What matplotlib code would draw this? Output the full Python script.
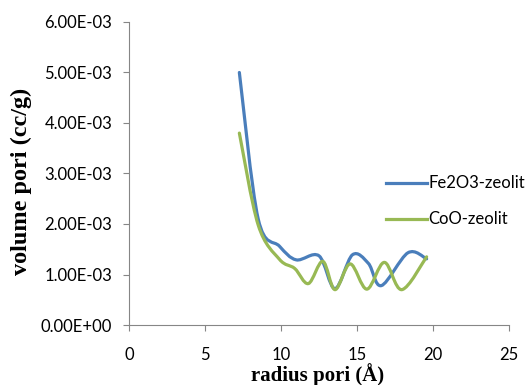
import numpy as np
import matplotlib
matplotlib.use("Agg")
import matplotlib.pyplot as plt
from matplotlib.path import Path
from matplotlib.patches import PathPatch
from matplotlib.lines import Line2D

# ---- data (volume in cc/g) ----
fe_radius = [7.26, 8.5, 9.9, 11.0, 12.5, 13.55, 14.7, 15.75, 16.6, 18.35, 19.58]
fe_volume = [5.0e-3, 2.1e-3, 1.56e-3, 1.29e-3, 1.37e-3, 0.72e-3, 1.39e-3, 1.22e-3, 0.78e-3, 1.43e-3, 1.31e-3]

co_radius = [7.26, 8.5, 9.9, 10.9, 11.8, 12.75, 13.55, 14.55, 15.65, 16.8, 17.95, 19.58]
co_volume = [3.8e-3, 1.98e-3, 1.3e-3, 1.12e-3, 0.82e-3, 1.26e-3, 0.70e-3, 1.21e-3, 0.71e-3, 1.24e-3, 0.70e-3, 1.35e-3]

series_names = ["Fe2O3-zeolit", "CoO-zeolit"]
series_colors = ["#4A7EBB", "#98B954"]

x_ticks = [0, 5, 10, 15, 20, 25]
y_ticks = [0, 1e-3, 2e-3, 3e-3, 4e-3, 5e-3, 6e-3]
y_ticklabels = ["0.00E+00", "1.00E-03", "2.00E-03", "3.00E-03", "4.00E-03", "5.00E-03", "6.00E-03"]


def smooth_path(xs, ys):
    """Excel-style smoothed line: cubic Bezier segments through the points."""
    P = np.column_stack([xs, ys]).astype(float)
    n = len(P)
    verts = [P[0]]
    codes = [Path.MOVETO]
    for i in range(n - 1):
        p0 = P[i - 1] if i > 0 else P[i]
        p1 = P[i]
        p2 = P[i + 1]
        p3 = P[i + 2] if i + 2 < n else P[i + 1]
        c1 = p1 + (p2 - p0) / 6.0
        c2 = p2 - (p3 - p1) / 6.0
        verts += [c1, c2, p2]
        codes += [Path.CURVE4] * 3
    return Path(verts, codes)


W, H = 531, 385
fig = plt.figure(figsize=(W / 100, H / 100), dpi=100)
ax = fig.add_axes([129 / W, 1 - 325 / H, (509 - 129) / W, (325 - 22) / H])

ax.set_xlim(0, 25)
ax.set_ylim(0, 6e-3)

for xs, ys, col in [(fe_radius, fe_volume, series_colors[0]),
                    (co_radius, co_volume, series_colors[1])]:
    patch = PathPatch(smooth_path(xs, ys), facecolor="none", edgecolor=col,
                      lw=2.3, capstyle="round", joinstyle="round")
    ax.add_patch(patch)

for s in ["top", "right"]:
    ax.spines[s].set_visible(False)
for s in ["left", "bottom"]:
    ax.spines[s].set_color("#868686")
    ax.spines[s].set_linewidth(0.8)

tick_font = dict(family="Lato", size=12)
ax.set_xticks(x_ticks)
ax.set_xticklabels([str(t) for t in x_ticks], **tick_font, color="#000000")
ax.set_yticks(y_ticks)
ax.set_yticklabels(y_ticklabels, **tick_font, color="#000000")
ax.tick_params(axis="both", direction="out", length=4, color="#868686", width=0.8)
ax.tick_params(axis="x", pad=12)
ax.tick_params(axis="y", pad=8)

# axis titles
fig.text(318 / W, 1 - 375 / H, "radius pori (Å)", family="Liberation Serif",
         weight="bold", size=15, ha="center", va="center")
fig.text(21 / W, 1 - 181 / H, "volume pori (cc/g)", family="Liberation Serif",
         weight="bold", size=17.5, ha="center", va="center", rotation=90)

# legend
for i, (name, col) in enumerate(zip(series_names, series_colors)):
    yc = 1 - (183 + 36 * i) / H
    fig.add_artist(Line2D([386 / W, 427 / W], [yc, yc], color=col, lw=2.3,
                          transform=fig.transFigure))
    fig.text(428 / W, yc, name, family="Lato", size=12, ha="left", va="center")

fig.savefig("out.png", dpi=100)
